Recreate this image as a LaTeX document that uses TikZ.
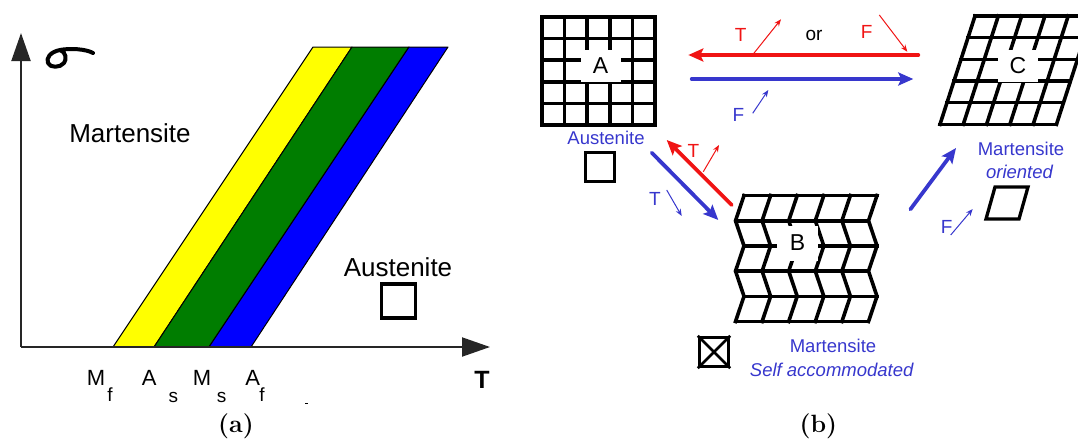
\documentclass[tikz,border=0pt]{standalone}
\usepackage{fontspec}
\newfontfamily\arialf{Liberation Sans}
\usetikzlibrary{arrows.meta}
\definecolor{bandyellow}{RGB}{255,255,0}
\definecolor{bandgreen}{RGB}{0,125,0}
\definecolor{bandblue}{RGB}{0,0,255}
\definecolor{myred}{RGB}{240,20,20}
\definecolor{myblue}{RGB}{55,55,205}
\tikzset{
  txt/.style={font=\arialf\fontsize{#1pt}{#1pt}\selectfont, inner sep=0pt},
  band/.style={draw=black, line width=1pt, line join=round},
  axisln/.style={draw=black!85, line width=2pt, -{Triangle[length=28pt,width=19pt]}},
  gridln/.style={draw=black, line width=3.6pt, line cap=rect, line join=miter},
  labelbox/.style={fill=white, minimum width=40pt, minimum height=32pt, inner sep=0pt, font=\arialf\fontsize{23pt}{23pt}\selectfont},
  sqbox/.style={draw=black, line width=3.3pt, inner sep=0pt, minimum size=#1},
  bigarr/.style={line width=3.8pt, line cap=round, -{Stealth[length=15pt,width=13pt,inset=3pt]}},
  smallarr/.style={line width=1pt, -{Stealth[length=7pt,width=5.5pt]}},
  bluetxt/.style={txt=18.5, text=myblue},
  redtxt/.style={txt=19, text=myred},
  captxt/.style={font=\bfseries\fontsize{25pt}{25pt}\selectfont, inner sep=0pt},
}
\begin{document}
\begin{tikzpicture}[x=1pt,y=-1pt]
\useasboundingbox (0,0) rectangle (1078,439);
\clip (0,0) rectangle (1078,439);

% ---------------- panel (a) ----------------
\draw[band, fill=bandyellow] (113,347) -- (154,347) -- (352,47) -- (313,47) -- cycle;
\draw[band, fill=bandgreen]  (154,347) -- (209,347) -- (409,47) -- (352,47) -- cycle;
\draw[band, fill=bandblue]   (209,347) -- (251,347) -- (448,47) -- (409,47) -- cycle;

\coordinate (O) at (21,347);
\coordinate (Ytip) at (21,33);
\coordinate (Xtip) at (490,347);
\draw[axisln] (O) -- (Ytip);
\draw[axisln] (O) -- (Xtip);

% sigma
\draw[line width=4pt, line cap=round, line join=round]
  (93,53) .. controls (86,49) and (70,48) .. (60,50)
  .. controls (50,52) and (46,58) .. (48,63)
  .. controls (50,68) and (60,68) .. (64,63)
  .. controls (67,59) and (66,52) .. (60,50);

\node[txt=26] (martA) at (130,133) {Martensite};
\node[txt=26] (austA) at (398,267) {Austenite};
\node[sqbox=34pt] (sqA) at (398.5,301) {};

\node[txt=22] (Mf) at (96,378) {M};
\node[txt=19] (Mfs) at (110,395) {f};
\node[txt=22] (As) at (149.3,378) {A};
\node[txt=19] (Ass) at (173.3,397) {s};
\node[txt=22] (Ms) at (202,378) {M};
\node[txt=19] (Mss) at (221.7,397) {s};
\node[txt=22] (Af) at (252.7,378) {A};
\node[txt=19] (Afs) at (262,395) {f};
\node[txt=25, font=\arialf\bfseries\fontsize{25pt}{25pt}\selectfont] (Tlab) at (482,380) {T};
\draw[line width=1pt] (305,403) -- (308,403);
\node[captxt] (capa) at (236,426) {(a)};

% ---------------- panel (b) ----------------
% grid A
\foreach \i in {0,...,5} {
  \draw[gridln] ({542+\i*22.6},17) -- ({542+\i*22.6},125);
  \draw[gridln] (542,{17+\i*21.6}) -- (655,{17+\i*21.6});
}
\node[labelbox] (A) at (600.5,65.5) {A};

% grid C (sheared)
\foreach \j in {0,...,5} {
  \pgfmathsetmacro\yy{16+\j*21.66}
  \pgfmathsetmacro\LL{940+7*(5-\j)}
  \draw[gridln] (\LL,\yy) -- ({\LL+116.5},\yy);
}
\foreach \i in {0,...,5} {
  \draw[gridln] ({975+\i*23.3},16) -- ({940+\i*23.3},124.3);
}
\node[labelbox] (C) at (1018,66) {C};

% grid B (zig-zag)
\foreach \j/\LL in {0/744,1/735.5,2/744,3/735.5,4/744,5/735.5} {
  \draw[gridln] (\LL,{195.5+\j*25.2}) -- ({\LL+133},{195.5+\j*25.2});
}
\foreach \i in {0,...,5} {
  \draw[gridln] ({744+\i*26.6},195.5) -- ({735.5+\i*26.6},220.7) -- ({744+\i*26.6},245.9)
     -- ({735.5+\i*26.6},271.1) -- ({744+\i*26.6},296.3) -- ({735.5+\i*26.6},321.5);
}
\node[labelbox, minimum width=41pt, minimum height=35pt] (B) at (797.5,243) {B};

% labels and small symbols
\node[bluetxt] (austB) at (606,138.3) {Austenite};
\node[sqbox=29pt] (sqB) at (600,167.3) {};
\node[bluetxt] (martC) at (1021,149) {Martensite};
\node[bluetxt, font=\arialf\itshape\fontsize{18.5pt}{18.5pt}\selectfont] (oriC) at (1019.5,171.5) {oriented};
\draw[line width=3.3pt, line join=miter] (986,219) -- (1019,219) -- (1028,187) -- (995,187) -- cycle;
\node[bluetxt] (martB) at (833,346) {Martensite};
\node[bluetxt, font=\arialf\itshape\fontsize{18.5pt}{18.5pt}\selectfont] (selfB) at (831.7,370) {Self accommodated};
\node[sqbox=29pt] (sqX) at (714,352) {};
\draw[line width=2.8pt] (sqX.north west) -- (sqX.south east);
\draw[line width=2.8pt] (sqX.north east) -- (sqX.south west);

% big arrows
\coordinate (rA1) at (918.3,55);  \coordinate (rA2) at (688.3,55);
\coordinate (bA1) at (691.7,79);  \coordinate (bA2) at (913.3,79);
\coordinate (bAB1) at (651.7,152.7); \coordinate (bAB2) at (718.3,220);
\coordinate (rBA1) at (731.7,205); \coordinate (rBA2) at (666.7,140);
\coordinate (bBC1) at (910.4,209.3); \coordinate (bBC2) at (956,148);
\draw[bigarr, myred] (rA1) -- (rA2);
\draw[bigarr, myblue] (bA1) -- (bA2);
\draw[bigarr, myblue] (bAB1) -- (bAB2);
\draw[bigarr, myred] (rBA1) -- (rBA2);
\draw[bigarr, myblue] (bBC1) -- (bBC2);

% small arrows
\coordinate (s1a) at (753.3,54);  \coordinate (s1b) at (781,19.3);
\coordinate (s2a) at (879.3,15);  \coordinate (s2b) at (907.3,51.7);
\coordinate (s3a) at (752.7,113.3); \coordinate (s3b) at (768.3,90);
\coordinate (s4a) at (703.3,171.7); \coordinate (s4b) at (719,145);
\coordinate (s5a) at (666.7,190); \coordinate (s5b) at (681.7,216);
\coordinate (s6a) at (950.7,235); \coordinate (s6b) at (972.7,209);
\draw[smallarr, myred] (s1a) -- (s1b);
\draw[smallarr, myred] (s2a) -- (s2b);
\draw[smallarr, myblue] (s3a) -- (s3b);
\draw[smallarr, myred] (s4a) -- (s4b);
\draw[smallarr, myblue] (s5a) -- (s5b);
\draw[smallarr, myblue] (s6a) -- (s6b);

\node[redtxt] (t1) at (740.7,35) {T};
\node[txt=19] (orlab) at (814,35) {or};
\node[redtxt] (f1) at (866.7,32) {F};
\node[bluetxt, txt=19] (f2) at (738.5,115) {F};
\node[redtxt] (t2) at (693.3,150.7) {T};
\node[bluetxt, txt=19] (t3) at (655,199.3) {T};
\node[bluetxt, txt=19] (f3) at (946.7,227) {F};

\node[captxt] (capb) at (818.3,426.7) {(b)};
\end{tikzpicture}
\end{document}
